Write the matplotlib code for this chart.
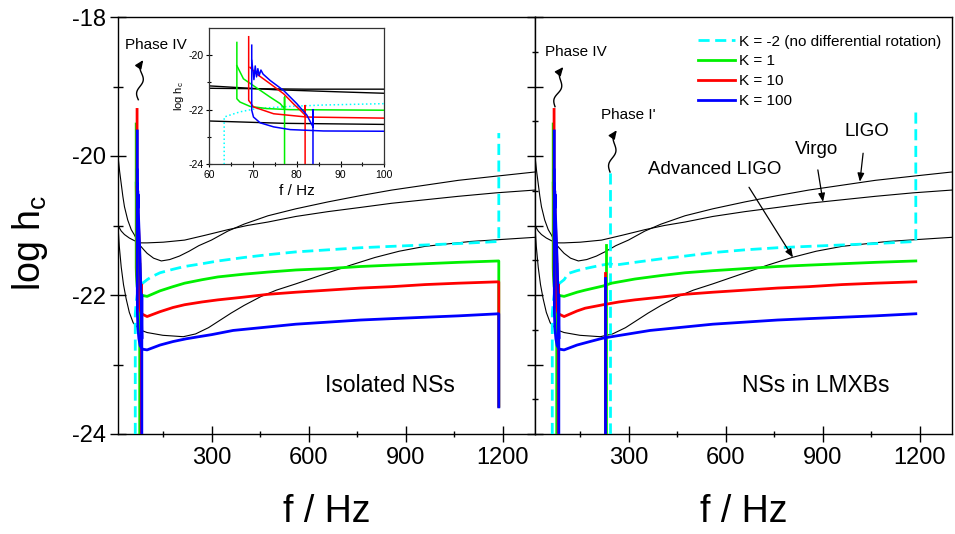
import numpy as np
import matplotlib.pyplot as plt
from matplotlib.lines import Line2D

plt.rcParams['font.family'] = 'Liberation Sans'
plt.rcParams['mathtext.fontset'] = 'custom'
plt.rcParams['mathtext.rm'] = 'Liberation Sans'
plt.rcParams['mathtext.it'] = 'Liberation Sans:italic'
plt.rcParams['axes.unicode_minus'] = False

# ---- detector sensitivities (log h), same in both panels ----
ligo_f = [10, 15, 20, 25, 30, 40, 51, 60, 75, 92, 100, 120, 144, 170, 200, 230, 260,
          299, 350, 400, 474, 560, 660, 760, 857, 960, 1063, 1180, 1300]
ligo_y = [-20.0, -20.22, -20.4, -20.58, -20.73, -20.92, -21.06, -21.13, -21.27, -21.36,
          -21.40, -21.47, -21.51, -21.49, -21.44, -21.37, -21.29, -21.21, -21.08, -20.98,
          -20.86, -20.76, -20.66, -20.57, -20.49, -20.42, -20.35, -20.29, -20.23]
virgo_f = [10, 15, 20, 30, 45, 61.5, 82, 100, 150, 216, 280, 350, 410, 474, 560, 660,
           760, 857, 960, 1063, 1180, 1300]
virgo_y = [-20.99, -21.04, -21.08, -21.13, -21.18, -21.22, -21.25, -21.25, -21.24, -21.21,
           -21.14, -21.06, -21.0, -20.95, -20.87, -20.80, -20.74, -20.68, -20.63, -20.58,
           -20.53, -20.49]
advligo_f = [10, 14, 20, 27, 35, 45, 57, 77, 100, 149, 212, 250, 290, 330, 360, 400,
             453, 500, 560, 660, 730, 805, 880, 960, 1100, 1300]
advligo_y = [-21.0, -21.3, -21.6, -21.85, -22.05, -22.25, -22.40, -22.5, -22.54, -22.58,
             -22.6, -22.56, -22.47, -22.35, -22.26, -22.15, -22.02, -21.93, -21.84, -21.68,
             -21.57, -21.46, -21.37, -21.30, -21.23, -21.17]

# ---- phase IV spike (f < 100 Hz), shared by both panels ----
cyan_lo_f = [63.4, 63.4, 64.7, 67.0, 70.8, 78.5, 86.1, 100]
cyan_lo_y = [-24.0, -22.27, -22.2, -22.08, -21.96, -21.88, -21.83, -21.78]

green_lo_f = [66.3, 66.3, 67.0, 69.3, 73.1, 78.5, 100]
green_lo_y = [-19.54, -21.6, -21.72, -21.88, -21.96, -22.0, -22.02]
green_drop_f = [66.3, 67.8, 70.8, 73.9, 76.2, 77.2, 77.2, 77.2]
green_drop_y = [-20.39, -20.87, -21.2, -21.54, -21.78, -21.96, -21.54, -24.0]

red_lo_f = [69.0, 69.0, 70.1, 74.7, 82.3, 100]
red_lo_y = [-19.33, -21.66, -21.9, -22.15, -22.27, -22.31]
red_drop_f = [69.3, 70.8, 73.9, 77.0, 79.2, 80.8, 81.9, 81.9, 81.9]
red_drop_y = [-20.45, -20.69, -21.05, -21.42, -21.78, -22.02, -22.2, -21.85, -24.0]

blue_lo_f = [69.7, 69.7, 70.1, 71.6, 74.7, 78.5, 86.1, 100]
blue_lo_y = [-19.64, -22.02, -22.27, -22.48, -22.63, -22.73, -22.78, -22.79]
blue_drop_f = [69.7, 70.2, 70.5, 70.8, 71.1, 71.4, 71.8, 72.3, 73.9, 77.0, 80.0,
               82.3, 83.7, 83.7, 83.7]
blue_drop_y = [-20.2, -20.9, -20.4, -20.8, -20.5, -20.75, -20.55, -20.7, -20.93,
               -21.3, -21.78, -22.2, -22.63, -22.0, -24.0]

# ---- isolated NSs, f > 100 Hz ----
iso_cyan_f = [113, 140, 180, 216, 270, 320, 400, 474, 560, 660, 760, 857, 960, 1063,
              1188, 1188]
iso_cyan_y = [-21.74, -21.68, -21.63, -21.59, -21.55, -21.51, -21.46, -21.42, -21.38,
              -21.35, -21.32, -21.30, -21.28, -21.26, -21.23, -19.67]
iso_green_f = [140, 180, 216, 270, 319, 400, 474, 560, 660, 760, 857, 960, 1063,
               1188, 1188]
iso_green_y = [-21.94, -21.88, -21.83, -21.78, -21.74, -21.70, -21.67, -21.64, -21.62,
               -21.59, -21.57, -21.55, -21.53, -21.51, -23.6]
iso_red_f = [140, 180, 216, 270, 319, 400, 474, 560, 660, 760, 857, 960, 1063, 1188, 1188]
iso_red_y = [-22.24, -22.18, -22.14, -22.10, -22.07, -22.03, -21.99, -21.96, -21.93,
             -21.90, -21.88, -21.85, -21.83, -21.81, -23.6]
iso_blue_f = [140, 180, 221, 260, 300, 366, 474, 560, 660, 760, 857, 960, 1063, 1188, 1188]
iso_blue_y = [-22.72, -22.67, -22.63, -22.60, -22.57, -22.51, -22.46, -22.42, -22.39,
              -22.36, -22.34, -22.32, -22.30, -22.27, -23.61]

# ---- NSs in LMXBs, f > 100 Hz ----
lmxb_cyan_f = [113, 140, 165, 216, 242, 257, 319, 400, 474, 560, 660, 760, 857, 960,
               1063, 1188, 1188]
lmxb_cyan_y = [-21.69, -21.65, -21.62, -21.57, -21.55, -21.57, -21.53, -21.48, -21.44,
               -21.39, -21.35, -21.32, -21.30, -21.28, -21.26, -21.23, -19.3]
lmxb_green_f = [140, 165, 221, 247, 319, 400, 474, 560, 660, 760, 857, 960, 1063, 1188]
lmxb_green_y = [-21.96, -21.93, -21.87, -21.83, -21.77, -21.72, -21.68, -21.65, -21.62,
                -21.59, -21.57, -21.55, -21.53, -21.51]
lmxb_red_f = [140, 165, 221, 270, 319, 400, 474, 560, 660, 760, 857, 960, 1063, 1188]
lmxb_red_y = [-22.23, -22.19, -22.14, -22.10, -22.07, -22.03, -21.99, -21.96, -21.93,
              -21.90, -21.88, -21.85, -21.83, -21.81]
lmxb_blue_f = [140, 180, 221, 260, 300, 366, 474, 560, 660, 760, 857, 960, 1063, 1188]
lmxb_blue_y = [-22.72, -22.67, -22.62, -22.59, -22.56, -22.51, -22.46, -22.42, -22.39,
               -22.36, -22.34, -22.32, -22.30, -22.27]

# phase I' lines in LMXBs (frequency, top of the line)
phase1_f = {'cyan': 242, 'green': 231, 'red': 226, 'blue': 226}
phase1_top = {'cyan': -20.23, 'green': -21.28, 'red': -21.69, 'blue': -21.76}

labels = ['K = -2 (no differential rotation)', 'K = 1', 'K = 10', 'K = 100']

C_CYAN, C_GREEN, C_RED, C_BLUE = '#00FFFF', '#00F000', '#FF0000', '#0000FF'
LW = 2.0
DASH = (0, (4, 2))


def draw_detectors(ax, lw=0.8):
    for f, y in [(ligo_f, ligo_y), (virgo_f, virgo_y), (advligo_f, advligo_y)]:
        ax.plot(f, y, color='black', lw=lw, zorder=2)


def draw_spike(ax, hi_cyan, hi_green, hi_red, hi_blue, lw=LW, cyan_ls=DASH):
    ax.plot(cyan_lo_f + hi_cyan[0], cyan_lo_y + hi_cyan[1], color=C_CYAN, lw=lw,
            linestyle=cyan_ls, zorder=3)
    ax.plot(green_lo_f + hi_green[0], green_lo_y + hi_green[1], color=C_GREEN, lw=lw, zorder=4)
    ax.plot(green_drop_f, green_drop_y, color=C_GREEN, lw=lw, zorder=4)
    ax.plot(red_lo_f + hi_red[0], red_lo_y + hi_red[1], color=C_RED, lw=lw, zorder=5)
    ax.plot(red_drop_f, red_drop_y, color=C_RED, lw=lw, zorder=5)
    ax.plot(blue_lo_f + hi_blue[0], blue_lo_y + hi_blue[1], color=C_BLUE, lw=lw, zorder=6)
    ax.plot(blue_drop_f, blue_drop_y, color=C_BLUE, lw=lw, zorder=6)


def wiggle_arrow(ax, start, end, amp=2.5, waves=1.5):
    p0 = ax.transData.transform(start)
    p1 = ax.transData.transform(end)
    d = p1 - p0
    u = d / np.hypot(*d)
    nrm = np.array([-u[1], u[0]])
    t = np.linspace(0, 1, 80)
    pts = p0 + np.outer(t, d) + np.outer(amp * np.sin(2 * np.pi * waves * t), nrm)
    xy = ax.transData.inverted().transform(pts)
    ax.plot(xy[:-4, 0], xy[:-4, 1], color='black', lw=1.0, zorder=7)
    ax.annotate('', xy=xy[-1], xytext=xy[-8],
                arrowprops=dict(arrowstyle='-|>,head_length=0.5,head_width=0.22',
                                color='black', lw=1.0, shrinkA=0, shrinkB=0))


def pointer(ax, text_xy, tip_xy):
    ax.annotate('', xy=tip_xy, xytext=text_xy,
                arrowprops=dict(arrowstyle='-|>,head_length=0.5,head_width=0.2',
                                color='black', lw=0.9, shrinkA=0, shrinkB=0))


fig = plt.figure(figsize=(9.55, 5.34), dpi=100)
W, H = 955, 534
ax1 = fig.add_axes([118 / W, 100 / H, 417 / W, 417 / H])
ax2 = fig.add_axes([535 / W, 100 / H, 417 / W, 417 / H])

for ax in (ax1, ax2):
    ax.set_xlim(10, 1300)
    ax.set_ylim(-24, -18)
    ax.set_xticks([300, 600, 900, 1200])
    ax.set_xticks([150, 450, 750, 1050], minor=True)
    ax.tick_params(axis='x', which='major', direction='inout', length=11, width=1,
                   labelsize=17, pad=4, top=False)
    ax.tick_params(axis='x', which='minor', direction='inout', length=5, width=1, top=False)
    for s in ax.spines.values():
        s.set_linewidth(1.0)

ax1.set_yticks([-24, -22, -20, -18])
ax1.set_yticks([-23, -21, -19], minor=True)
ax1.tick_params(axis='y', which='major', direction='inout', length=12, width=1,
                labelsize=17, pad=3, right=False)
ax1.tick_params(axis='y', which='minor', direction='inout', length=7, width=1, right=False)

ax2.set_yticks(np.arange(-24, -17.5, 1.0))
ax2.set_yticks(np.arange(-23.5, -18, 1.0), minor=True)
ax2.tick_params(axis='y', which='major', direction='inout', length=12, width=1,
                labelleft=False, right=False)
ax2.tick_params(axis='y', which='minor', direction='inout', length=5, width=1, right=False)

# isolated neutron stars
draw_detectors(ax1)
draw_spike(ax1, (iso_cyan_f, iso_cyan_y), (iso_green_f, iso_green_y),
           (iso_red_f, iso_red_y), (iso_blue_f, iso_blue_y))
ax1.text(0.652, 0.1175, 'Isolated NSs', transform=ax1.transAxes, ha='center',
         va='center', fontsize=16.5)
ax1.text(127, -18.4, 'Phase IV', ha='center', va='center', fontsize=11)
wiggle_arrow(ax1, (72.8, -19.19), (88, -18.62))

# neutron stars in LMXBs
draw_detectors(ax2)
draw_spike(ax2, (lmxb_cyan_f, lmxb_cyan_y), (lmxb_green_f, lmxb_green_y),
           (lmxb_red_f, lmxb_red_y), (lmxb_blue_f, lmxb_blue_y))
ax2.plot([phase1_f['cyan']] * 2, [-24, phase1_top['cyan']], color=C_CYAN, lw=LW,
         linestyle=DASH, zorder=3)
for name, col, z in [('green', C_GREEN, 4), ('red', C_RED, 5), ('blue', C_BLUE, 6)]:
    ax2.plot([phase1_f[name]] * 2, [-24, phase1_top[name]], color=col, lw=LW, zorder=z)

ax2.text(0.674, 0.1175, 'NSs in LMXBs', transform=ax2.transAxes, ha='center',
         va='center', fontsize=16.5)
ax2.text(135, -18.5, 'Phase IV', ha='center', va='center', fontsize=11)
wiggle_arrow(ax2, (71.9, -19.29), (97.5, -18.72))
ax2.text(298, -19.41, "Phase I'", ha='center', va='center', fontsize=11)
wiggle_arrow(ax2, (242, -20.23), (263, -19.63))

ax2.text(567, -20.19, 'Advanced LIGO', ha='center', va='center', fontsize=13.5)
ax2.text(881, -19.91, 'Virgo', ha='center', va='center', fontsize=13.5)
ax2.text(1038, -19.65, 'LIGO', ha='center', va='center', fontsize=13.5)
pointer(ax2, (672, -20.45), (808, -21.46))
pointer(ax2, (885, -20.2), (901, -20.66))
pointer(ax2, (1025, -19.96), (1015, -20.37))

handles = [Line2D([0], [0], color=C_CYAN, lw=LW, linestyle=DASH),
           Line2D([0], [0], color=C_GREEN, lw=LW),
           Line2D([0], [0], color=C_RED, lw=LW),
           Line2D([0], [0], color=C_BLUE, lw=LW)]
ax2.legend(handles, labels, loc='upper right', bbox_to_anchor=(0.975, 0.958),
           frameon=False, fontsize=11, handlelength=2.4, handletextpad=0.3,
           labelspacing=0.38, borderpad=0, borderaxespad=0)

fig.text(30 / W, 1 - 243 / H, r'log h$_\mathrm{c}$', rotation=90, ha='center',
         va='center', fontsize=27)
fig.text(326.5 / W, 1 - 521.5 / H, 'f / Hz', ha='center', va='baseline', fontsize=27)
fig.text(743.5 / W, 1 - 521.5 / H, 'f / Hz', ha='center', va='baseline', fontsize=27)

# zoom on the phase IV spike
axi = fig.add_axes([209.3 / W, (H - 164.3) / H, 175 / W, 136.6 / H])
axi.set_xlim(60, 100)
axi.set_ylim(-24, -19)
axi.set_xticks([60, 70, 80, 90, 100])
axi.set_xticks([65, 75, 85, 95], minor=True)
axi.set_yticks([-24, -22, -20])
axi.set_yticks([-23, -21], minor=True)
axi.tick_params(which='major', direction='inout', length=5, width=0.8, labelsize=7.5, pad=1.5)
axi.tick_params(which='minor', direction='inout', length=3, width=0.8)
for s in axi.spines.values():
    s.set_linewidth(0.9)
    s.set_color('#333333')
draw_detectors(axi, lw=1.0)
draw_spike(axi, (iso_cyan_f, iso_cyan_y), (iso_green_f, iso_green_y),
           (iso_red_f, iso_red_y), (iso_blue_f, iso_blue_y), lw=1.1, cyan_ls=':')
axi.set_xlabel('f / Hz', fontsize=11, labelpad=3)
axi.set_ylabel(r'log h$_\mathrm{c}$', fontsize=8, labelpad=2)

fig.savefig('out.png', dpi=100)
